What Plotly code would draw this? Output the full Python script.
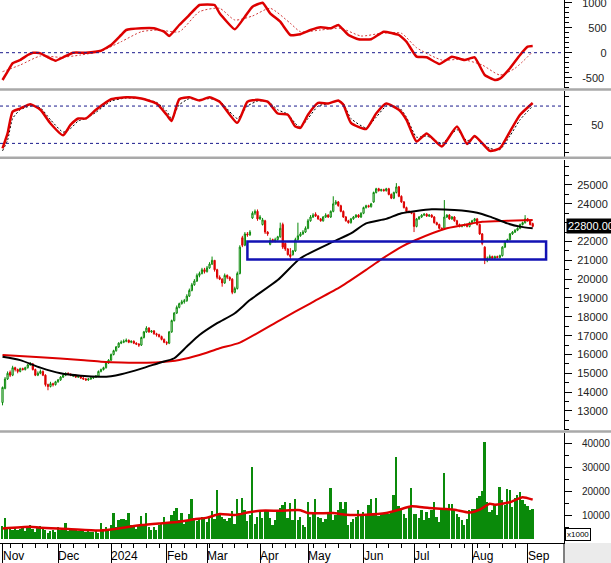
import plotly.graph_objects as go
import pandas as pd

# ---------------- calendar (trading days, VN holidays removed) ----------------
holidays = ["2024-01-01", "2024-02-08", "2024-02-09", "2024-02-12", "2024-02-13", "2024-02-14",
            "2024-04-18", "2024-04-29", "2024-04-30", "2024-05-01", "2024-09-02", "2024-09-03"]
dates = [d for d in pd.bdate_range("2023-11-01", "2024-09-06") if d.strftime("%Y-%m-%d") not in holidays]
n = len(dates)
day = list(range(n))

# ---------------- price data ----------------
close = [14250, 14700, 15000, 14900, 15300, 15200, 15100, 15250, 15200, 15300,
         15450, 15500, 15200, 14900, 15000, 15100, 14900, 14400, 14300, 14450,
         14400, 14550, 14650, 14800, 14900, 15000, 14950, 14900, 14900, 14800,
         14850, 14750, 14700, 14650, 14700, 14750, 14800, 14850, 15100, 15200,
         15300, 15550, 15700, 16000, 16200, 16400, 16600, 16650, 16700, 16750,
         16650, 16700, 16600, 16550, 16500, 16900, 17200, 17400, 17200, 17250,
         17100, 17050, 16950, 16800, 16650, 16600, 17200, 17800, 18200, 18500,
         18700, 18800, 18850, 19100, 19400, 19700, 19900, 20200, 20300, 20500,
         20400, 20600, 20800, 21000, 20500, 20100, 20000, 19800, 20200, 20100,
         20000, 19300, 19500, 20300, 21700, 21800, 22400, 22350, 22500, 23500,
         23600, 23200, 23300, 23150, 22500, 22400, 22050, 22000, 22100, 22250,
         22700, 21700, 21600, 21300, 21200, 21500, 22100, 22300, 22400, 22500,
         22700, 23100, 23300, 23400, 23350, 23200, 23100, 23300, 23400, 23300,
         23600, 24000, 24100, 23900, 23600, 23300, 23100, 23000, 23200, 23300,
         23400, 23300, 23500, 23800, 23900, 23850, 24000, 24600, 24800, 24700,
         24750, 24700, 24800, 24500, 24300, 24600, 24900, 24400, 24100, 23800,
         23600, 23550, 23500, 22800, 23200, 23300, 23400, 23450, 23350, 23400,
         23300, 23000, 22900, 22700, 22650, 23300, 23400, 23200, 23300, 23100,
         22900, 22800, 22850, 22900, 22800, 23000, 23100, 23200, 22900, 22400,
         21900, 21000, 21100, 21200, 21100, 21200, 21150, 21250, 21700, 22000,
         22100, 22400, 22500, 22600, 22700, 22900, 23000, 23200, 23100, 22900,
         22800]
open_ = [13450, 14200, 14700, 15050, 14900, 15300, 15200, 15100, 15250, 15200,
         15300, 15450, 15500, 15200, 14900, 15000, 15100, 14900, 14400, 14300,
         14450, 14400, 14550, 14650, 14800, 14900, 15000, 14950, 14850, 14900,
         14800, 14850, 14750, 14700, 14650, 14700, 14750, 14800, 14850, 15100,
         15200, 15300, 15550, 15700, 16000, 16200, 16400, 16600, 16650, 16700,
         16750, 16650, 16700, 16600, 16550, 16500, 16900, 17200, 17400, 17200,
         17250, 17100, 17050, 16950, 16800, 16650, 16600, 17200, 17800, 18200,
         18500, 18700, 18800, 18850, 19100, 19400, 19700, 19900, 20200, 20300,
         20500, 20400, 20600, 20800, 21000, 20500, 20100, 20000, 19800, 20200,
         20100, 20000, 19300, 19500, 20300, 22200, 21800, 22400, 22350, 23250,
         23500, 23600, 23200, 22900, 23100, 22500, 21850, 22100, 22000, 22100,
         22250, 22900, 21900, 21600, 21300, 21300, 21500, 22100, 22300, 22400,
         22500, 22700, 23100, 23300, 23450, 23350, 23200, 23100, 23300, 23400,
         23300, 23600, 24000, 24100, 23900, 23600, 23300, 23100, 23000, 23200,
         23300, 23400, 23300, 23500, 23800, 23900, 23850, 24100, 24600, 24800,
         24700, 24750, 24700, 24800, 24500, 24300, 24600, 24900, 24400, 24100,
         23800, 23600, 23550, 23500, 22800, 23200, 23300, 23400, 23450, 23350,
         23400, 23300, 23000, 22900, 22700, 22700, 23300, 23400, 23200, 23300,
         23100, 22900, 22800, 22850, 22900, 22800, 23000, 23100, 23200, 22900,
         22400, 21700, 21000, 21100, 21200, 21100, 21200, 21150, 21250, 21700,
         22000, 22100, 22400, 22500, 22600, 22700, 22900, 23000, 23200, 23100,
         22950]
high = [14300, 14800, 15100, 15150, 15400, 15350, 15250, 15300, 15300, 15350,
        15500, 15600, 15550, 15250, 15100, 15200, 15150, 14950, 14450, 14550,
        14500, 14600, 14700, 14850, 14950, 15050, 15050, 15000, 14950, 14950,
        14900, 14900, 14800, 14750, 14750, 14800, 14850, 14900, 15150, 15250,
        15350, 15600, 15750, 16050, 16250, 16450, 16650, 16750, 16800, 16850,
        16800, 16750, 16750, 16650, 16600, 16950, 17250, 17500, 17450, 17300,
        17300, 17150, 17100, 17000, 16850, 16700, 17250, 17850, 18250, 18600,
        18750, 18900, 18950, 19200, 19500, 19800, 20000, 20300, 20400, 20600,
        20600, 20700, 20900, 21200, 21000, 20550, 20200, 20050, 20300, 20250,
        20150, 20050, 19600, 20400, 21800, 22300, 22500, 22500, 22600, 23600,
        23700, 23700, 23400, 23250, 23150, 22550, 22200, 22150, 22200, 22300,
        23000, 23000, 21950, 21650, 21650, 21550, 22200, 23000, 22500, 22600,
        22800, 23200, 23400, 23500, 23550, 23400, 23250, 23350, 23500, 23450,
        23650, 24400, 24200, 24150, 23950, 23650, 23350, 23150, 23250, 23350,
        23450, 23450, 23550, 23850, 23950, 23950, 24050, 24650, 24850, 24850,
        24800, 24800, 24850, 24850, 24550, 24650, 25100, 24950, 24450, 24150,
        23850, 23650, 23600, 23550, 23250, 23350, 23450, 23500, 23500, 23450,
        23450, 23350, 23050, 22950, 22750, 24200, 23450, 23450, 23350, 23350,
        23150, 22950, 22900, 22950, 22950, 23050, 23150, 23250, 23250, 22950,
        22450, 21750, 21200, 21300, 21250, 21250, 21250, 21300, 21750, 22050,
        22150, 22450, 22550, 22650, 22750, 22950, 23050, 23400, 23250, 23150,
        23000]
low = [13300, 14150, 14650, 14800, 14850, 15100, 15000, 15050, 15150, 15150,
       15250, 15400, 15150, 14850, 14850, 14950, 14850, 14300, 14100, 14250,
       14300, 14350, 14500, 14600, 14750, 14850, 14900, 14850, 14800, 14750,
       14750, 14700, 14650, 14600, 14600, 14650, 14700, 14750, 14800, 15050,
       15150, 15250, 15500, 15650, 15950, 16150, 16350, 16550, 16600, 16650,
       16600, 16600, 16550, 16500, 16400, 16450, 16850, 17150, 17150, 17150,
       17050, 16950, 16900, 16750, 16600, 16500, 16550, 17150, 17750, 18150,
       18450, 18650, 18700, 18800, 19050, 19350, 19650, 19850, 20100, 20250,
       20300, 20350, 20550, 20750, 20400, 20000, 19950, 19600, 19750, 20000,
       19900, 19200, 19250, 19450, 20250, 21700, 21750, 22250, 22300, 23200,
       23400, 23100, 23150, 22850, 22400, 22300, 21800, 21950, 21950, 22050,
       22200, 21600, 21500, 21250, 21000, 21250, 21450, 22050, 22250, 22350,
       22450, 22650, 23050, 23250, 23300, 23150, 23050, 23050, 23250, 23250,
       23250, 23550, 23950, 23850, 23550, 23250, 23050, 22950, 22950, 23150,
       23250, 23250, 23250, 23450, 23750, 23800, 23800, 24050, 24550, 24650,
       24650, 24650, 24650, 24450, 24250, 24250, 24550, 24350, 24050, 23750,
       23550, 23500, 23450, 22500, 22750, 23150, 23250, 23350, 23300, 23300,
       23250, 22950, 22850, 22650, 22600, 22650, 23250, 23150, 23150, 23050,
       22850, 22750, 22750, 22800, 22750, 22750, 22950, 23050, 22850, 22350,
       21800, 20800, 20900, 21050, 21050, 21050, 21100, 21100, 21200, 21650,
       21950, 22050, 22350, 22450, 22550, 22650, 22850, 22950, 23050, 22850,
       22750]
volume = [5400, 8700, 4600, 4000, 3700, 5000, 3700, 4200, 4500, 3200,
          5000, 5800, 4000, 3000, 5000, 5300, 4500, 3800, 2500, 3500,
          3800, 3000, 5000, 3800, 4000, 6700, 3500, 4200, 3800, 4000,
          3400, 3300, 4000, 3000, 3400, 2800, 3000, 3200, 2500, 6700,
          4000, 5200, 4200, 5800, 10800, 5000, 7800, 8300, 8300, 7800,
          10800, 5800, 4800, 4000, 6000, 9400, 5800, 10800, 5200, 3700,
          5000, 3700, 5800, 6400, 9000, 7000, 6800, 10000, 11600, 13100,
          8000, 10800, 6400, 7800, 10500, 16700, 8700, 7500, 8700, 9000,
          8300, 7000, 8700, 11600, 8300, 20400, 10000, 9000, 8300, 7500,
          8700, 11600, 6400, 16800, 11000, 17000, 12000, 7500, 10000, 30100,
          6400, 9000, 11600, 8700, 11600, 11900, 8700, 5800, 7800, 11600,
          13100, 14000, 15500, 8700, 14800, 7800, 16700, 7800, 9000, 5800,
          4900, 15500, 9300, 10300, 16700, 9300, 8800, 7200, 8500, 11100,
          21300, 7900, 9800, 12000, 15500, 12700, 15500, 5800, 7200, 8500,
          9300, 12000, 9800, 11100, 10400, 14100, 16700, 9800, 17000, 9500,
          10300, 10400, 11100, 10400, 11400, 18400, 34300, 13700, 12000, 10300,
          8800, 13700, 21300, 10300, 10400, 8800, 12000, 7900, 11100, 8800,
          12000, 15500, 9300, 7200, 12000, 27400, 12000, 14500, 14500, 12000,
          10300, 9300, 7900, 5800, 8500, 12000, 12500, 12700, 17000, 18000,
          19800, 40500, 15500, 11400, 12000, 14300, 9800, 21700, 16100, 14100,
          20700, 20400, 13200, 17000, 18400, 19700, 16100, 14500, 13700, 12000,
          12400]

# moving averages on price (at sample days)
ma_fast_day = [0, 7, 15, 23, 31, 39, 43, 47, 55, 62, 68, 73, 78, 85, 92, 98, 109, 118, 131, 138,
               144, 152, 158, 170, 179, 188, 193, 200, 205, 210]
ma_fast_val = [15880, 15700, 15300, 15000, 14870, 14820, 14850, 14950, 15250, 15550, 15800, 16420,
               17030, 17660, 18190, 18890, 19950, 21110, 21990, 22430, 22960, 23200, 23500, 23710,
               23670, 23530, 23320, 22960, 22790, 22700]
ma_slow_day = [0, 15, 31, 39, 47, 55, 62, 70, 78, 86, 94, 110, 122, 134, 144, 150, 158, 163, 176,
               186, 190, 200, 210]
ma_slow_val = [15970, 15850, 15710, 15620, 15570, 15560, 15590, 15710, 15970, 16330, 16630, 17830,
               18720, 19600, 20490, 21050, 21720, 22040, 22700, 22960, 23050, 23100, 23140]

# support zone (blue box)
zone_start, zone_end = 97, 215.3
zone_low, zone_high = 21050, 22000
last_price_label = "22800.00"

# MACD
macd_day = [0, 2, 4, 7, 10, 12, 15, 18, 21, 24, 28, 33, 39, 43, 47, 49, 55, 60, 64, 66, 70, 74, 78,
            84, 86, 92, 96, 99, 103, 106, 110, 114, 118, 122, 126, 130, 133, 137, 141, 146, 151, 157,
            160, 164, 168, 173, 178, 183, 187, 191, 195, 197, 201, 205, 208, 210]
macd_val = [-546, -380, -212, -146, -46, 0, -13, -92, -160, -92, 0, 0, 40, 154, 354, 454, 488, 488,
            420, 334, 554, 754, 954, 954, 788, 468, 720, 920, 1000, 788, 620, 354, 370, 454, 508, 488,
            554, 354, 268, 268, 420, 354, 220, -80, -92, -226, -80, -146, -92, -446, -546, -520, -312,
            -46, 120, 134]
signal_day = [0, 7, 15, 23, 31, 39, 47, 55, 62, 70, 78, 86, 92, 99, 106, 114, 118, 126, 134, 142,
              150, 158, 164, 174, 182, 190, 197, 203, 210]
signal_val = [-380, -246, -66, -92, -46, 33, 220, 420, 454, 420, 820, 888, 654, 734, 888, 588, 420,
              454, 488, 334, 388, 388, 100, -146, -132, -246, -446, -312, 20]

# Stochastic
stoch_day = [0, 2, 4, 7, 11, 15, 19, 24, 27, 30, 33, 37, 43, 49, 55, 61, 65, 67, 70, 74, 78, 82, 86,
             93, 97, 101, 105, 109, 113, 116, 118, 121, 125, 129, 133, 135, 138, 144, 148, 152, 157,
             160, 164, 168, 174, 180, 184, 187, 193, 197, 201, 205, 210]
stoch_k = [12, 36, 71, 76, 83, 74, 52, 33, 50, 60, 60, 74, 91, 94, 92, 84, 66, 56, 91, 94, 89, 94, 87,
           53, 87, 90, 87, 68, 66, 47, 45, 66, 85, 84, 89, 82, 53, 43, 68, 84, 74, 58, 23, 36, 15, 47,
           19, 32, 8, 12, 39, 66, 85]
stoch_d = [8, 25, 60, 74, 80, 77, 58, 38, 44, 56, 60, 70, 88, 93, 92, 86, 72, 60, 82, 92, 90, 92, 88,
           60, 80, 88, 88, 74, 67, 52, 46, 60, 80, 84, 88, 84, 60, 45, 62, 80, 78, 62, 30, 32, 20, 42,
           24, 30, 12, 10, 32, 58, 80]

# volume moving average
vma_day = [0, 11, 15, 26, 38, 43, 49, 55, 62, 70, 76, 81, 86, 92, 97, 102, 110, 118, 121, 131, 136,
           144, 152, 157, 162, 169, 175, 179, 185, 189, 193, 195, 201, 206, 210]
vma_val = [4400, 5100, 4700, 4200, 3500, 4000, 4900, 5800, 6500, 7200, 8200, 8900, 10400, 10000,
           11000, 11800, 11800, 12000, 10800, 10800, 10100, 10100, 10800, 12200, 13600, 12900, 12500,
           12200, 11000, 12200, 14700, 14300, 15300, 17400, 16400]

# axis tick values
macd_ticks = [-500, 0, 500, 1000]
stoch_ticks = [50]
price_ticks = [13000, 14000, 15000, 16000, 17000, 18000, 19000, 20000, 21000, 22000, 23000, 24000, 25000]
volume_ticks = [10000, 20000, 30000, 40000]

# ---------------- ticks from calendar ----------------
month_idx = [i for i in range(n) if i == 0 or dates[i].month != dates[i - 1].month]
month_lbl = ["2024" if dates[i].month == 1 else dates[i].strftime("%b") for i in month_idx]
week_idx = [i for i in range(1, n) if dates[i].weekday() < dates[i - 1].weekday() and i not in month_idx]

# ---------------- colours ----------------
RED = "#dd0000"
GREEN = "#0a8a0a"
NAVY = "#1a1a8c"
FONT = "Liberation Sans, Arial, sans-serif"

H = 543.0


def dom(top_px, bot_px):
    return [1 - bot_px / H, 1 - top_px / H]


def pad4(v):
    s = str(v)
    return "\u2007" * max(0, 4 - len(s)) + s


fig = go.Figure()

# MACD panel
fig.add_trace(go.Scatter(x=signal_day, y=signal_val, yaxis="y", mode="lines",
                         line=dict(color="#d23a3a", width=1, dash="2px,2px", shape="spline", smoothing=0.6)))
fig.add_trace(go.Scatter(x=macd_day, y=macd_val, yaxis="y", mode="lines",
                         line=dict(color=RED, width=2.5, shape="spline", smoothing=0.4)))
# Stochastic panel
fig.add_trace(go.Scatter(x=stoch_day, y=stoch_d, yaxis="y2", mode="lines",
                         line=dict(color="black", width=1, dash="2px,2px", shape="spline", smoothing=0.5)))
fig.add_trace(go.Scatter(x=stoch_day, y=stoch_k, yaxis="y2", mode="lines",
                         line=dict(color=RED, width=2.5, shape="spline", smoothing=0.5)))
# Price panel
fig.add_trace(go.Candlestick(x=day, open=open_, high=high, low=low, close=close, yaxis="y3",
                             increasing=dict(line=dict(color=GREEN, width=1), fillcolor="white"),
                             decreasing=dict(line=dict(color=RED, width=1), fillcolor=RED),
                             whiskerwidth=0))
fig.add_trace(go.Scatter(x=ma_slow_day, y=ma_slow_val, yaxis="y3", mode="lines",
                         line=dict(color=RED, width=2, shape="spline", smoothing=0.6)))
fig.add_trace(go.Scatter(x=ma_fast_day, y=ma_fast_val, yaxis="y3", mode="lines",
                         line=dict(color="black", width=2, shape="spline", smoothing=0.6)))
# Volume panel
fig.add_trace(go.Bar(x=day, y=volume, yaxis="y4", marker=dict(color=GREEN, line=dict(width=0)), width=0.72))
fig.add_trace(go.Scatter(x=vma_day, y=vma_val, yaxis="y4", mode="lines",
                         line=dict(color=RED, width=2.5, shape="spline", smoothing=0.5)))


def yax(**kw):
    base = dict(side="right", anchor="x", showline=True, linecolor="black", linewidth=1,
                ticks="outside", ticklen=7, tickcolor="black", showgrid=False, zeroline=False,
                automargin=False, ticklabeloverflow="allow", tickmode="array",
                tickfont=dict(family=FONT, size=11, color="#222"))
    base.update(kw)
    return base


fig.update_layout(
    width=611, height=563,
    margin=dict(l=0, r=47, t=0, b=20),
    paper_bgcolor="white", plot_bgcolor="white",
    showlegend=False,
    bargap=0,
    xaxis=dict(range=[-1, 222.4], anchor="y4", showgrid=False, zeroline=False,
               showline=True, linecolor="black", linewidth=1,
               tickmode="array", tickvals=month_idx, ticktext=[""] * len(month_idx),
               ticks="outside", ticklen=20, tickcolor="black",
               minor=dict(tickmode="array", tickvals=week_idx, ticks="outside", ticklen=4, tickcolor="black"),
               rangeslider=dict(visible=False), automargin=False),
    yaxis=yax(domain=dom(0, 88), range=[-706, 1054],
              tickvals=macd_ticks, ticktext=[pad4(v) for v in macd_ticks], ticklabelstandoff=8,
              minor=dict(dtick=100, tick0=0, ticks="outside", ticklen=4, tickcolor="black")),
    yaxis2=yax(domain=dom(91, 157), range=[-1.9, 104.2],
               tickvals=stoch_ticks, ticktext=[str(v) for v in stoch_ticks], ticklabelstandoff=17,
               minor=dict(dtick=15, tick0=5, ticks="outside", ticklen=4, tickcolor="black")),
    yaxis3=yax(domain=dom(160, 430), range=[11990, 26327],
               tickvals=price_ticks,
               ticktext=["" if v == 23000 else str(v) for v in price_ticks], ticklabelstandoff=3,
               minor=dict(dtick=500, tick0=0, ticks="outside", ticklen=4, tickcolor="black")),
    yaxis4=yax(domain=dom(433, 543), range=[-1667, 44167],
               tickvals=volume_ticks, ticktext=[str(v) for v in volume_ticks], ticklabelstandoff=8,
               tickfont=dict(family=FONT, size=10, color="#222"),
               minor=dict(dtick=5000, tick0=0, ticks="outside", ticklen=4, tickcolor="black")),
)

shapes = []
# dashed reference lines
for yref, val in [("y", 0), ("y2", 80), ("y2", 20)]:
    shapes.append(dict(type="line", xref="paper", yref=yref, x0=0, x1=1, y0=val, y1=val,
                       line=dict(color=NAVY, width=1, dash="3px,3px")))
# support box
shapes.append(dict(type="rect", xref="x", yref="y3", x0=zone_start, x1=zone_end, y0=zone_low, y1=zone_high,
                   line=dict(color="#1212b4", width=2.5), layer="above"))
# panel separators
for ypx in [89.5, 157.8, 431.5]:
    yy = 1 - ypx / H
    shapes.append(dict(type="line", xref="paper", yref="paper", x0=0, x1=611 / 564, y0=yy, y1=yy,
                       line=dict(color="#a9a9a9", width=2.5)))
# grey corner in the date row
shapes.append(dict(type="rect", xref="paper", yref="paper", x0=1.002, x1=611 / 564 + 0.01,
                   y0=-20 / H - 0.01, y1=0, fillcolor="#ebebeb", line=dict(width=0)))
shapes.append(dict(type="line", xref="paper", yref="paper", x0=1, x1=1, y0=-20 / H - 0.01, y1=0,
                   line=dict(color="black", width=1)))
fig.update_layout(shapes=shapes)

ann = []
for i, lbl in zip(month_idx, month_lbl):
    ann.append(dict(x=i, xref="x", y=0, yref="paper", text=lbl, showarrow=False,
                    xanchor="left", yanchor="top", xshift=-2, yshift=-4,
                    font=dict(family=FONT, size=12, color="black")))
ann.append(dict(x=1, xref="paper", y=close[-1], yref="y3", text=last_price_label, showarrow=False,
                xanchor="left", yanchor="middle", xshift=2, bgcolor="black", borderpad=1,
                font=dict(family=FONT, size=11, color="white")))
ann.append(dict(x=1, xref="paper", y=0, yref="paper", text="x1000", showarrow=False,
                xanchor="left", yanchor="bottom", xshift=1, yshift=2, bgcolor="white",
                bordercolor="black", borderwidth=1, borderpad=1,
                font=dict(family=FONT, size=8, color="black")))
fig.update_layout(annotations=ann)

fig.write_html("out.html")
